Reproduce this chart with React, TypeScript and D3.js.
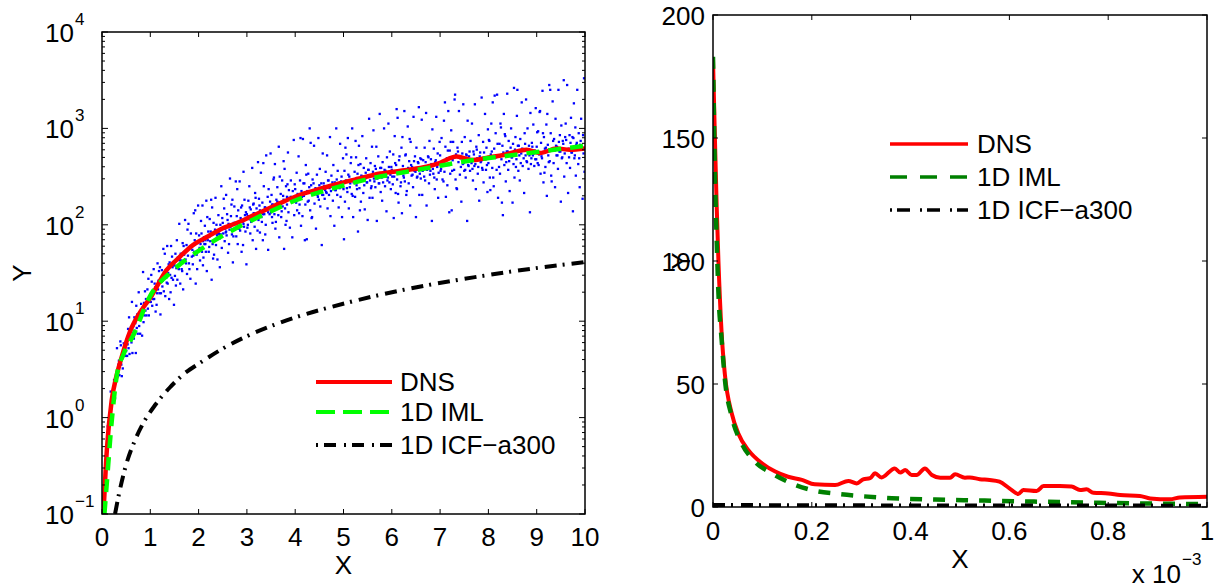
import React from "react";
import * as d3 from "d3";

const W = 1217;
const H = 585;

// ---------- tick / label data ----------
const leftXTicks = [0, 1, 2, 3, 4, 5, 6, 7, 8, 9, 10];
const leftYExps = [-1, 0, 1, 2, 3, 4];
const rightXTicks = [0, 0.2, 0.4, 0.6, 0.8, 1];
const rightXTickLabels = ["0", "0.2", "0.4", "0.6", "0.8", "1"];
const rightYTicks = [0, 50, 100, 150, 200];
const seriesNames = ["DNS", "1D IML", "1D ICF\u2212a300"];

// ---------- left panel curves (X, Y) ----------
const dnsLeftX = [0.03, 0.1, 0.2, 0.3, 0.41, 0.58, 0.86, 1.0, 1.34, 1.6, 1.89, 2.2, 2.44, 2.8, 3.06, 3.54, 4.1, 4.5, 4.93, 5.3, 5.76, 6.31, 6.72, 7.0, 7.34, 7.69, 8.0, 8.31, 8.79, 9.07, 9.41, 9.69, 10];
const dnsLeftY = [0.1, 0.46, 1.5, 2.7, 4.3, 7.8, 14, 17.5, 34, 46, 62, 76, 89, 105, 120, 155, 205, 235, 270, 300, 340, 370, 400, 440, 510, 470, 500, 530, 600, 555, 620, 600, 620];

const imlLeftX = [0.05, 0.1, 0.2, 0.3, 0.45, 0.65, 0.99, 1.48, 2.03, 2.72, 3.41, 4.1, 4.93, 5.6, 6.31, 7.0, 7.69, 8.4, 9.07, 10];
const imlLeftY = [0.1, 0.21, 0.9, 2.6, 4.6, 7.2, 18, 34, 55, 89, 132, 187, 250, 305, 355, 410, 470, 520, 575, 660];

const icfLeftX = [0.27, 0.35, 0.48, 0.7, 0.85, 1.1, 1.4, 1.7, 2.03, 2.5, 3.0, 3.82, 5.07, 6.31, 7.69, 9.07, 10];
const icfLeftY = [0.1, 0.16, 0.3, 0.61, 0.87, 1.35, 2.04, 2.85, 3.7, 5.2, 7.0, 10.2, 15.5, 21.5, 28.5, 36, 41];

// ---------- left panel scatter: pairs of (X*100, log10(Y)*100) ----------
const scatterXY = [
  5,-78,7,-64,9,-38,10,-36,12,-9,13,-25,15,-2,16,-4,18,27,19,0,21,23,22,22,24,21,25,39,27,20,28,39,30,40,31,72,33,43,34,55,36,44,37,55,39,75,40,55,42,66,43,51,45,77,46,65,48,71,49,64,38,79,44,64,47,73,41,43,35,59,
  50,69,51,81,52,64,53,76,54,92,55,72,56,104,57,66,58,85,59,81,60,94,61,78,62,120,63,67,64,88,65,95,66,82,67,104,68,90,69,98,70,67,71,116,72,93,73,107,74,87,75,102,76,130,77,95,78,109,79,87,80,106,81,118,82,106,83,85,84,114,85,151,86,99,87,119,88,106,89,131,90,111,91,123,92,106,93,118,94,133,95,113,96,144,97,106,98,125,99,120,
  100,128,101,120,103,141,104,116,105,127,107,154,108,123,109,139,111,110,112,134,113,117,115,160,116,133,117,142,119,129,120,156,121,107,123,141,124,153,125,136,127,175,128,131,129,147,131,126,132,153,133,145,135,178,136,139,137,150,139,123,140,161,141,148,143,178,144,145,145,167,147,143,148,158,149,117,102,148,106,123,110,135,114,129,118,152,122,129,126,142,130,170,134,140,138,159,142,130,146,156,
  150,158,151,147,152,170,154,155,155,184,156,143,158,165,159,154,160,201,162,139,163,170,164,163,166,152,167,181,168,133,170,169,171,162,172,205,174,160,175,179,176,149,178,168,179,201,180,160,182,177,183,144,184,191,186,167,187,174,188,159,190,212,191,172,192,184,194,139,195,191,196,169,198,181,199,220,153,137,157,166,161,163,165,154,169,178,173,164,177,195,181,154,185,177,189,168,193,215,197,154,
  200,173,201,189,203,163,204,180,205,204,207,172,208,220,209,158,211,187,212,180,213,199,215,172,216,225,217,152,219,184,220,193,221,172,223,206,224,183,225,193,227,143,228,218,229,180,231,202,232,169,233,192,235,228,236,179,237,200,239,164,240,192,241,210,243,190,244,156,245,200,247,240,248,176,249,207,202,174,206,191,210,166,214,184,218,208,222,177,226,226,230,165,234,195,238,189,242,191,246,190,
  250,202,251,191,253,217,254,183,255,196,257,231,258,189,259,211,261,171,262,201,263,180,265,248,266,198,267,209,269,190,270,226,271,161,273,202,274,219,275,195,277,245,278,188,279,209,281,180,282,215,283,203,285,245,286,194,287,207,289,172,290,220,291,203,293,255,294,198,295,226,297,193,298,213,299,159,252,227,256,192,260,205,264,195,268,221,272,188,276,202,280,237,284,196,288,218,292,179,296,210,
  202,176,209,183,214,180,223,188,229,183,238,191,244,186,251,196,257,193,263,199,269,195,272,201,281,199,288,205,293,201,
  300,211,301,197,303,225,304,206,305,240,307,191,308,216,309,203,311,259,312,184,313,221,315,212,316,198,317,233,319,175,320,217,321,208,323,265,324,205,325,227,327,192,328,214,329,254,331,203,332,223,333,184,335,240,336,211,337,218,339,200,340,272,341,216,343,229,344,174,345,237,347,211,348,224,349,274,302,200,306,218,310,205,314,222,318,228,322,194,326,220,330,208,334,264,338,190,
  350,213,351,231,353,202,354,221,355,247,357,211,358,263,359,196,361,226,362,219,363,239,365,210,366,281,367,187,369,222,370,232,371,208,373,246,374,219,375,230,377,175,378,258,379,217,381,240,382,204,383,229,385,275,386,213,387,236,389,197,390,227,391,246,393,225,394,187,395,235,397,288,398,210,399,242,352,208,356,249,360,203,364,223,368,250,372,214,376,266,380,200,384,242,388,228,
  302,209,308,205,314,212,321,208,327,215,333,211,338,218,344,213,352,221,357,216,363,224,369,219,376,226,383,221,391,229,
  400,237,401,224,403,254,404,215,406,230,407,271,409,221,410,246,412,199,413,235,415,209,416,289,418,230,419,243,421,221,422,262,424,185,425,235,427,253,428,225,430,300,431,215,433,241,434,207,436,247,437,233,439,282,440,222,442,238,443,196,445,252,446,231,448,290,449,226,451,258,452,219,454,243,455,179,457,274,458,231,
  460,240,461,227,463,255,464,234,466,272,467,217,469,246,470,231,472,291,473,209,475,251,476,240,478,225,479,262,481,199,482,244,484,236,485,300,487,231,488,256,490,218,491,241,493,284,494,229,496,250,497,208,499,269,402,223,405,232,408,212,411,290,414,229,417,243,420,184,423,252,426,224,429,239,432,285,435,208,438,243,
  444,237,447,229,450,241,453,235,456,231,459,243,462,236,465,233,468,246,471,238,474,235,477,244,480,240,483,236,486,247,489,241,492,238,495,245,498,239,
  500,237,502,256,503,224,505,246,506,273,508,234,509,290,511,217,512,250,514,243,515,264,517,232,518,300,520,208,521,244,523,255,524,229,526,270,527,241,529,253,530,193,532,282,533,238,535,263,536,224,538,250,539,292,541,233,542,259,544,216,545,248,547,269,548,244,550,205,551,257,553,310,554,228,556,264,557,238,559,281,
  560,228,562,298,563,248,565,261,566,239,568,281,569,204,571,253,572,271,574,243,575,315,577,234,578,259,580,225,581,265,583,251,584,300,586,240,587,256,589,214,590,270,592,249,593,305,595,244,596,276,598,237,599,260,501,185,504,280,507,238,510,252,513,239,516,270,519,230,522,245,525,287,528,237,531,262,534,215,537,251,
  540,250,543,241,546,254,549,244,552,257,555,246,558,240,561,255,564,245,567,258,570,248,573,243,576,259,579,249,582,244,585,257,588,250,591,246,594,260,597,252,
  600,257,602,242,603,273,605,250,606,292,608,233,609,262,611,247,612,311,614,223,615,267,617,256,618,240,620,280,621,212,623,261,624,251,626,318,627,245,629,273,630,231,632,256,633,302,635,243,636,266,638,220,639,286,641,251,642,260,644,239,645,312,647,256,648,271,650,208,651,280,653,250,654,265,656,322,657,231,659,269,
  660,248,662,309,663,231,665,267,666,258,668,280,669,246,671,316,672,220,674,260,675,271,677,243,678,287,680,256,681,268,683,204,684,299,686,253,687,279,689,237,690,265,692,312,693,247,695,274,696,228,698,263,699,286,601,250,604,207,607,264,610,320,613,232,616,271,619,244,622,291,625,249,628,272,631,235,634,259,637,289,
  640,262,643,252,646,266,649,255,652,249,655,264,658,253,661,268,664,256,667,250,670,265,673,257,676,270,679,252,682,263,685,258,688,249,691,267,694,260,697,254,
  700,272,702,258,703,290,705,247,706,263,708,308,709,255,711,281,712,229,714,269,715,241,717,318,718,262,720,277,721,253,723,298,724,215,726,267,727,286,729,257,730,330,732,247,733,273,735,237,736,280,738,265,739,318,741,252,742,269,744,224,745,286,747,263,748,325,750,256,751,291,753,249,754,273,756,204,757,308,759,261,
  760,271,762,256,763,287,765,264,766,305,768,246,769,276,771,261,772,325,774,237,775,281,777,269,778,253,780,293,781,225,783,275,784,265,786,332,787,259,789,286,790,244,792,269,793,315,795,257,796,280,798,234,799,299,701,256,704,265,707,245,710,327,713,262,716,277,719,213,722,286,725,256,728,271,731,335,734,238,737,276,
  740,270,743,260,746,274,749,264,752,257,755,272,758,262,761,276,764,266,767,258,770,273,773,263,776,278,779,260,782,271,785,266,788,257,791,275,794,268,797,262,
  800,264,802,287,803,249,805,273,806,305,808,259,809,327,811,240,812,279,814,270,815,295,817,257,818,335,820,228,821,271,823,284,824,253,826,301,827,268,829,282,830,210,832,315,833,262,835,292,836,245,838,276,839,336,841,257,842,287,844,235,845,274,847,300,848,270,850,223,851,284,853,342,854,249,856,291,857,260,859,313,
  860,340,862,256,863,282,865,246,866,289,868,274,869,327,871,261,872,278,874,233,875,295,877,272,878,330,880,265,881,300,883,258,884,282,886,213,887,316,889,269,890,285,892,272,893,304,895,261,896,277,898,321,899,268,801,288,804,236,807,276,810,249,813,334,816,270,819,284,822,260,825,305,828,223,831,275,834,294,837,265,
  840,276,843,266,846,280,849,270,852,263,855,278,858,268,861,282,864,272,867,264,870,279,873,269,876,284,879,266,882,277,885,272,888,263,891,281,894,274,897,268,
  900,281,902,264,903,297,905,273,906,317,908,253,909,285,911,269,912,339,914,244,915,291,917,279,918,260,920,304,921,230,923,283,924,272,926,345,927,266,929,295,930,251,932,278,933,328,935,264,936,289,938,239,939,310,941,272,942,281,944,258,945,340,947,276,948,293,950,224,951,303,953,270,954,287,956,350,957,250,959,291,
  960,305,962,264,963,345,965,233,966,279,968,293,969,259,971,311,972,275,974,291,975,214,977,326,978,269,980,301,981,251,983,285,984,340,986,263,987,295,989,239,990,283,992,310,993,278,995,227,996,293,998,352,999,255,901,296,904,262,907,318,910,271,913,295,916,254,919,280,922,315,925,265,928,340,931,245,934,287,937,277,
  940,282,943,272,946,286,949,276,952,269,955,284,958,274,961,288,964,278,967,270,970,285,973,275,976,290,979,272,982,283,985,278,988,269,991,287,994,280,997,274
];

// ---------- right panel curves (X in units of 1e-3, Y) ----------
const dnsRightX = [0, 0.004, 0.0075, 0.011, 0.0175, 0.024, 0.038, 0.051, 0.072, 0.099, 0.126, 0.152, 0.18, 0.206, 0.247, 0.274, 0.291, 0.304, 0.318, 0.328, 0.341, 0.368, 0.379, 0.389, 0.402, 0.412, 0.429, 0.443, 0.46, 0.48, 0.49, 0.51, 0.52, 0.54, 0.56, 0.58, 0.6, 0.618, 0.628, 0.655, 0.669, 0.702, 0.726, 0.743, 0.756, 0.77, 0.8, 0.824, 0.864, 0.885, 0.925, 0.945, 1.0];
const dnsRightY = [182, 149, 122, 100, 70.6, 54, 38, 30, 23, 17.8, 14.4, 12.3, 11, 9.2, 8.9, 10.6, 9.6, 11.2, 11.7, 13.7, 12, 15.7, 14, 15, 13, 13, 15.7, 13, 11.9, 11.9, 13.3, 11.9, 12, 11.3, 11, 10.3, 7.6, 5.3, 6.9, 6.5, 8.5, 8.5, 8.3, 6.9, 7.2, 5.8, 5.5, 4.9, 4.5, 3.5, 3.1, 3.9, 4.2];

const imlRightX = [0, 0.004, 0.0075, 0.011, 0.0175, 0.024, 0.038, 0.058, 0.085, 0.119, 0.159, 0.206, 0.254, 0.301, 0.362, 0.45, 0.55, 0.65, 0.77, 0.87, 1.0];
const imlRightY = [183, 135, 108, 87, 68, 52, 36.7, 25.9, 18.4, 13.7, 9.6, 6.6, 5.3, 4.4, 3.6, 3.0, 2.6, 2.2, 1.75, 1.45, 1.2];

const icfRightX = [0, 0.25, 0.5, 0.75, 1.0];
const icfRightY = [0.8, 0.7, 0.6, 0.6, 0.5];

// ---------- layout ----------
const FONT = "'Liberation Sans', Arial, Helvetica, sans-serif";
const L = { x0: 102, x1: 585, y0: 32, y1: 514 };
const R = { x0: 713, x1: 1207, y0: 15, y1: 507 };

const xL = d3.scaleLinear().domain([0, 10]).range([L.x0, L.x1]);
const yL = d3.scaleLog().domain([0.1, 1e4]).range([L.y1, L.y0]);
const xR = d3.scaleLinear().domain([0, 1]).range([R.x0, R.x1]);
const yR = d3.scaleLinear().domain([0, 200]).range([R.y1, R.y0]);

const zip = (a: number[], b: number[]) => a.map((v, i) => [v, b[i]] as [number, number]);

const lineL = d3
  .line<[number, number]>()
  .x((d) => xL(d[0]))
  .y((d) => yL(d[1]))
  .curve(d3.curveMonotoneX);
const lineR = d3
  .line<[number, number]>()
  .x((d) => xR(d[0]))
  .y((d) => yR(d[1]))
  .curve(d3.curveMonotoneX);

function supLabel(e: number) {
  return e < 0 ? "\u2212" + String(-e) : String(e);
}

const scatterPts: [number, number][] = [];
for (let i = 0; i + 1 < scatterXY.length; i += 2) {
  scatterPts.push([scatterXY[i] / 100, Math.pow(10, scatterXY[i + 1] / 100)]);
}

export default function App() {
  const minorL: number[] = [];
  for (let e = -1; e < 4; e++) for (let k = 2; k <= 9; k++) minorL.push(k * Math.pow(10, e));

  const legendL = { x0: 316, x1: 392, tx: 400, ys: [382, 412, 445] };
  const legendR = { x0: 890, x1: 968, tx: 977, ys: [144, 177, 210] };
  const dot = 2.3;

  return (
    <svg
      width={W}
      height={H}
      style={{ position: "absolute", left: 0, top: 0, background: "#fff" }}
      fontFamily={FONT}
    >
      <defs>
        <clipPath id="clipL">
          <rect x={L.x0} y={L.y0} width={L.x1 - L.x0} height={L.y1 - L.y0} />
        </clipPath>
        <clipPath id="clipR">
          <rect x={R.x0} y={R.y0 - 2} width={R.x1 - R.x0} height={R.y1 - R.y0 + 2} />
        </clipPath>
      </defs>
      <rect x={0} y={0} width={W} height={H} fill="#fff" />

      {/* ================= LEFT PANEL ================= */}
      <g clipPath="url(#clipL)">
        {scatterPts.map((p, i) => (
          <rect key={i} x={xL(p[0]) - dot / 2} y={yL(p[1]) - dot / 2} width={dot} height={dot} fill="#0000ff" />
        ))}
        <path d={lineL(zip(dnsLeftX, dnsLeftY)) || ""} fill="none" stroke="#ff0000" strokeWidth={4.5} />
        <path
          d={lineL(zip(imlLeftX, imlLeftY)) || ""}
          fill="none"
          stroke="#00ff00"
          strokeWidth={4.5}
          strokeDasharray="13,9"
        />
        <path
          d={lineL(zip(icfLeftX, icfLeftY)) || ""}
          fill="none"
          stroke="#000"
          strokeWidth={4}
          strokeDasharray="12,6,2,7"
        />
      </g>

      {/* left axes frame and ticks */}
      <rect x={L.x0} y={L.y0} width={L.x1 - L.x0} height={L.y1 - L.y0} fill="none" stroke="#000" strokeWidth={1.5} />
      {leftXTicks.map((t) => (
        <g key={"lx" + t}>
          <line x1={xL(t)} x2={xL(t)} y1={L.y1} y2={L.y1 - 5} stroke="#000" strokeWidth={1} />
          <line x1={xL(t)} x2={xL(t)} y1={L.y0} y2={L.y0 + 5} stroke="#000" strokeWidth={1} />
          <text x={xL(t)} y={546} fontSize={26} textAnchor="middle">
            {t}
          </text>
        </g>
      ))}
      {leftYExps.map((e) => {
        const y = yL(Math.pow(10, e));
        return (
          <g key={"ly" + e}>
            <line x1={L.x0} x2={L.x0 + 6} y1={y} y2={y} stroke="#000" strokeWidth={1} />
            <line x1={L.x1} x2={L.x1 - 6} y1={y} y2={y} stroke="#000" strokeWidth={1} />
            <text x={74} y={y + 10} fontSize={26} textAnchor="end">
              10
            </text>
            <text x={75} y={y - 7} fontSize={17}>
              {supLabel(e)}
            </text>
          </g>
        );
      })}
      {minorL.map((v, i) => (
        <g key={"lm" + i}>
          <line x1={L.x0} x2={L.x0 + 3} y1={yL(v)} y2={yL(v)} stroke="#000" strokeWidth={1} />
          <line x1={L.x1} x2={L.x1 - 3} y1={yL(v)} y2={yL(v)} stroke="#000" strokeWidth={1} />
        </g>
      ))}
      <text x={(L.x0 + L.x1) / 2} y={574} fontSize={26} textAnchor="middle">
        X
      </text>
      <text transform={`translate(31,${(L.y0 + L.y1) / 2}) rotate(-90)`} fontSize={26} textAnchor="middle">
        Y
      </text>

      {/* left legend */}
      <g>
        <line x1={legendL.x0} x2={legendL.x1} y1={legendL.ys[0]} y2={legendL.ys[0]} stroke="#ff0000" strokeWidth={4} />
        <line
          x1={legendL.x0}
          x2={legendL.x1}
          y1={legendL.ys[1]}
          y2={legendL.ys[1]}
          stroke="#00ff00"
          strokeWidth={4}
          strokeDasharray="19,8"
        />
        <line
          x1={legendL.x0}
          x2={legendL.x1}
          y1={legendL.ys[2]}
          y2={legendL.ys[2]}
          stroke="#000"
          strokeWidth={4}
          strokeDasharray="2,6,12,8"
        />
        {seriesNames.map((s, i) => (
          <text key={"ll" + i} x={legendL.tx} y={legendL.ys[i] + 9} fontSize={26}>
            {s}
          </text>
        ))}
      </g>

      {/* ================= RIGHT PANEL ================= */}
      <g clipPath="url(#clipR)">
        <path d={lineR(zip(dnsRightX, dnsRightY)) || ""} fill="none" stroke="#ff0000" strokeWidth={4} />
        <path
          d={lineR(zip(imlRightX, imlRightY)) || ""}
          fill="none"
          stroke="#008000"
          strokeWidth={4.5}
          strokeDasharray="12,11"
        />
        <path
          d={lineR(zip(icfRightX, icfRightY)) || ""}
          fill="none"
          stroke="#000"
          strokeWidth={4}
          strokeDasharray="12,6,2,8"
        />
      </g>
      <rect x={R.x0} y={R.y0} width={R.x1 - R.x0} height={R.y1 - R.y0} fill="none" stroke="#000" strokeWidth={1.5} />
      {rightXTicks.map((t, i) => (
        <g key={"rx" + i}>
          <line x1={xR(t)} x2={xR(t)} y1={R.y1} y2={R.y1 - 5} stroke="#000" strokeWidth={1} />
          <line x1={xR(t)} x2={xR(t)} y1={R.y0} y2={R.y0 + 5} stroke="#000" strokeWidth={1} />
          <text x={xR(t)} y={540} fontSize={26} textAnchor="middle">
            {rightXTickLabels[i]}
          </text>
        </g>
      ))}
      {rightYTicks.map((t) => (
        <g key={"ry" + t}>
          <line x1={R.x0} x2={R.x0 + 5} y1={yR(t)} y2={yR(t)} stroke="#000" strokeWidth={1} />
          <line x1={R.x1} x2={R.x1 - 5} y1={yR(t)} y2={yR(t)} stroke="#000" strokeWidth={1} />
          <text x={705} y={yR(t) + 10} fontSize={26} textAnchor="end">
            {t}
          </text>
        </g>
      ))}
      <text x={(R.x0 + R.x1) / 2} y={568} fontSize={26} textAnchor="middle">
        X
      </text>
      <text transform={`translate(690,${(R.y0 + R.y1) / 2}) rotate(-90)`} fontSize={26} textAnchor="middle">
        Y
      </text>
      <text x={1181} y={583} fontSize={26} textAnchor="end">
        x 10
      </text>
      <text x={1182} y={565} fontSize={17}>
        {"\u22123"}
      </text>

      {/* right legend */}
      <g>
        <line x1={legendR.x0} x2={legendR.x1} y1={legendR.ys[0]} y2={legendR.ys[0]} stroke="#ff0000" strokeWidth={3.5} />
        <line
          x1={legendR.x0}
          x2={legendR.x1}
          y1={legendR.ys[1]}
          y2={legendR.ys[1]}
          stroke="#008000"
          strokeWidth={3.5}
          strokeDasharray="17,13"
        />
        <line
          x1={legendR.x0}
          x2={legendR.x1}
          y1={legendR.ys[2]}
          y2={legendR.ys[2]}
          stroke="#000"
          strokeWidth={3.5}
          strokeDasharray="2,5,13,10"
        />
        {seriesNames.map((s, i) => (
          <text key={"rl" + i} x={legendR.tx} y={legendR.ys[i] + 9} fontSize={26}>
            {s}
          </text>
        ))}
      </g>
    </svg>
  );
}
